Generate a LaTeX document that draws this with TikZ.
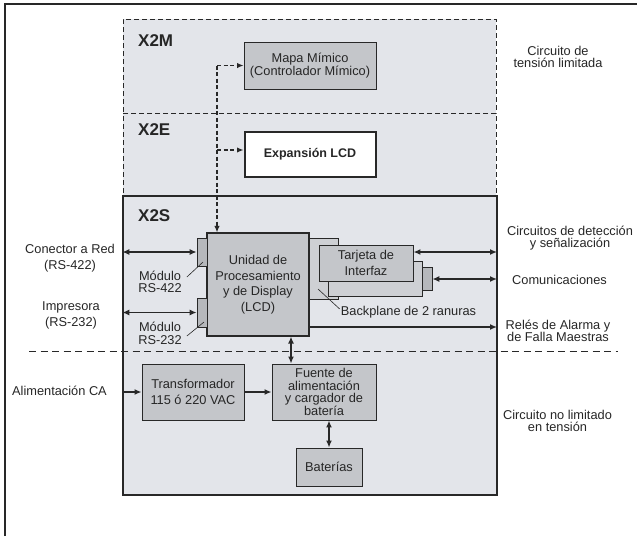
\documentclass[tikz,border=0pt]{standalone}
\usepackage{fontspec}
\setmainfont{Liberation Sans}
\usetikzlibrary{arrows.meta}

\definecolor{regfill}{RGB}{227,229,234}
\definecolor{boxfill}{RGB}{196,198,202}
\definecolor{backfill}{RGB}{206,208,212}
\definecolor{tabfill}{RGB}{182,184,188}
\definecolor{linecol}{RGB}{40,40,40}

\begin{document}
\begin{tikzpicture}[x=1pt, y=-1pt,
    font=\fontsize{12.8}{15.6}\selectfont,
    block/.style={draw=linecol, line width=0.9pt, fill=boxfill, inner sep=0pt, align=center, text=black!85},
    tabbox/.style={draw=linecol, line width=0.7pt, fill=tabfill, inner sep=0pt},
    zonebox/.style={draw=linecol, line width=1pt, dash pattern=on 5pt off 3pt, fill=regfill, inner sep=0pt},
    zonelbl/.style={font=\fontsize{17}{20}\selectfont\bfseries, anchor=west, inner sep=0pt, text=black!85},
    lbl/.style={align=center, inner sep=0pt, text=black!85},
    tight/.style={font=\fontsize{12.8}{12.6}\selectfont},
    dblarrow/.style={line width=1.8pt, draw=linecol, {Latex[length=7pt,width=6pt]}-{Latex[length=7pt,width=6pt]}},
    onearrow/.style={line width=1.8pt, draw=linecol, -{Latex[length=7pt,width=6pt]}},
    dasharrow/.style={line width=1.4pt, draw=linecol, dash pattern=on 4pt off 2.5pt, -{Latex[length=6.5pt,width=5.5pt]}},
    leader/.style={draw=linecol, line width=0.6pt}]
    \useasboundingbox (0,0) rectangle (637,536);

    % 外枠
    \draw[linecol, line width=1.5pt] (5,536) -- (5,4) -- (637,4);

    % ゾーン
    \node[zonebox, minimum width=373pt, minimum height=94pt] (x2m) at (309.5,66) {};
    \node[zonebox, minimum width=373pt, minimum height=83pt] (x2e) at (309.5,154.5) {};
    \node[draw=linecol, line width=1.3pt, fill=regfill, inner sep=0pt, minimum width=374pt, minimum height=299pt] (x2s) at (310,345.5) {};
    \draw[linecol, line width=0.9pt, dash pattern=on 7pt off 4.5pt] (29,351) -- (618,351);

    \node[zonelbl] (lx2m) at (138,41) {X2M};
    \node[zonelbl] (lx2e) at (138,130) {X2E};
    \node[zonelbl] (lx2s) at (138,216) {X2S};

    % ブロック
    \node[block, tight, minimum width=132pt, minimum height=47pt] (mapa) at (310,65.5) {Mapa Mímico\\(Controlador Mímico)};
    \node[block, fill=white, line width=2pt, minimum width=131pt, minimum height=45pt, font=\fontsize{12.5}{15}\selectfont\bfseries] (expan) at (310,154) {Expansión LCD};

    \node[block, fill=backfill, minimum width=29pt, minimum height=61pt] (bplane) at (323.5,268.5) {};
    \node[block, fill=backfill, minimum width=94pt, minimum height=35pt] (card2) at (375,278.5) {};
    \node[tabbox, minimum width=10pt, minimum height=23pt] (tab2) at (427,278.5) {};
    \node[block, minimum width=94pt, minimum height=36pt] (card1) at (366,263) {Tarjeta de\\Interfaz};

    \node[block, line width=1.1pt, minimum width=102pt, minimum height=103pt] (unit) at (258,284.5) {Unidad de\\Procesamiento\\y de Display\\(LCD)};
    \node[tabbox, minimum width=10pt, minimum height=28pt] (m422) at (202,252) {};
    \node[tabbox, minimum width=10pt, minimum height=29pt] (m232) at (202,312.5) {};

    \node[block, minimum width=102pt, minimum height=56pt] (transf) at (193,392) {Transformador\\115 ó 220 VAC};
    \node[block, tight, minimum width=104pt, minimum height=56pt] (fuente) at (324,392) {Fuente de\\alimentación\\y cargador de\\batería};
    \node[block, minimum width=66pt, minimum height=38pt] (bat) at (329,467) {Baterías};

    % ラベル
    \node[lbl] (lred) at (70,258) {Conector a Red\\(RS-422)};
    \node[lbl] (limp) at (71,315.5) {Impresora\\(RS-232)};
    \node[lbl, tight] (lm422) at (160,282) {Módulo\\RS-422};
    \node[lbl, tight] (lm232) at (160,333.5) {Módulo\\RS-232};
    \node[lbl] (lalim) at (59.5,391) {Alimentación CA};
    \node[lbl] (lbp) at (408.5,312) {Backplane de 2 ranuras};
    \node[lbl, tight] (llim) at (558,57) {Circuito de\\tensión limitada};
    \node[lbl, tight] (lcirc) at (570,238) {Circuitos de detección\\y señalización};
    \node[lbl] (lcomu) at (559.5,280) {Comunicaciones};
    \node[lbl, tight] (lrele) at (558,331) {Relés de Alarma y\\de Falla Maestras};
    \node[lbl, tight] (lnolim) at (557.5,421) {Circuito no limitado\\en tensión};

    % 接続
    \coordinate (jm) at (217,65.5);
    \coordinate (je) at (217,150);
    \draw[dasharrow] (jm) -- (mapa.west);
    \draw[dasharrow] (je) -- (expan.west |- je);
    \draw[dasharrow] (jm) -- (unit.north -| jm);

    \draw[dblarrow] (x2s.west |- m422) -- (m422.west);
    \draw[dblarrow] (x2s.west |- m232) -- (m232.west);

    \coordinate (circ) at (497,252);
    \coordinate (comu) at (497,279);
    \coordinate (rele) at (497,327);
    \draw[dblarrow] (card1.east |- circ) -- (circ);
    \draw[dblarrow] (tab2.east |- comu) -- (comu);
    \draw[onearrow] (unit.east |- rele) -- (rele);

    \coordinate (alim) at (123,392);
    \coordinate (uf) at (291,350);
    \draw[onearrow] (alim) -- (transf.west);
    \draw[onearrow] (transf) -- (fuente);
    \draw[dblarrow] (unit.south -| uf) -- (fuente.north -| uf);
    \draw[dblarrow] (fuente.south -| bat) -- (bat.north);

    % 引き出し線
    \coordinate (p422) at (203,262);
    \coordinate (p232) at (204,322);
    \coordinate (pbp) at (318,289);
    \draw[leader] ([shift={(5pt,5pt)}]lm422.east) -- (p422);
    \draw[leader] ([shift={(5pt,-2.5pt)}]lm232.east) -- (p232);
    \draw[leader] ([shift={(-1pt,3pt)}]lbp.west) -- (pbp);
\end{tikzpicture}
\end{document}
